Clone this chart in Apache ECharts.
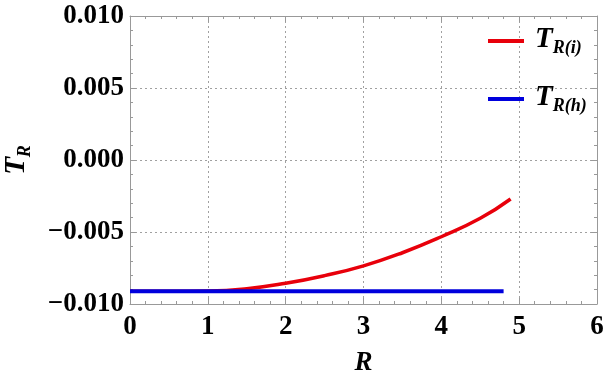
<!DOCTYPE html>
<html><head><meta charset="utf-8">
<script src="https://cdn.jsdelivr.net/npm/echarts@6/dist/echarts.min.js"></script>
<style>html,body{margin:0;padding:0;background:#fff}#c{width:604px;height:382px}</style>
</head><body><div id="c"></div>
<script>
var rInterior = [0, 0.5, 1, 1.5, 2, 2.5, 3, 3.5, 4, 4.5, 4.89];
var tInterior = [-0.00912, -0.00912, -0.00910, -0.00894, -0.00856, -0.00803, -0.00735, -0.00644, -0.00533, -0.00405, -0.00271];
var rHorizon = [0, 4.8];
var tHorizon = [-0.00912, -0.00912];
var xTicks = [0, 1, 2, 3, 4, 5, 6];
var yTicks = [-0.010, -0.005, 0.000, 0.005, 0.010];
var seriesNames = ['T_R(i)', 'T_R(h)'];

function pairs(xs, ys) { return xs.map(function (x, i) { return [x, ys[i]]; }); }
var font = 'Liberation Serif';
var grid = '#a0a0a0';
function yFmt(v) { return (v < -1e-9 ? '\u2212' : '') + Math.abs(v).toFixed(3); }

var chart = echarts.init(document.getElementById('c'));
function axisCommon() {
  return {
    axisLine: { show: true, onZero: false, lineStyle: { color: '#999', width: 1 } },
    axisTick: { show: true, inside: true, length: 6, lineStyle: { color: '#999' } },
    minorTick: { show: true, splitNumber: 5, length: 3, lineStyle: { color: '#999' } }
  };
}
var richTR = {
  t: { fontFamily: font, fontSize: 29, fontWeight: 'bold', fontStyle: 'italic', color: '#000', lineHeight: 32, verticalAlign: 'top' },
  s: { fontFamily: font, fontSize: 18, fontWeight: 'bold', fontStyle: 'italic', color: '#000', lineHeight: 32, verticalAlign: 'bottom', padding: [10, 0, 0, 0] }
};
chart.setOption({
  animation: false,
  grid: { left: 130, right: 7, top: 16, bottom: 78, containLabel: false, outerBoundsMode: 'none' },
  legend: {
    orient: 'vertical', left: 483, top: 20, itemGap: 26,
    itemWidth: 36, itemHeight: 4, icon: 'rect',
    data: seriesNames,
    formatter: function (n) { return '{t|T}{s|' + n.slice(2) + '}'; },
    textStyle: { padding: [0, 0, 0, 6], rich: richTR }
  },
  xAxis: [
    Object.assign(axisCommon(), {
      type: 'value', min: xTicks[0], max: xTicks[xTicks.length - 1], interval: 1,
      name: 'R', nameLocation: 'middle', nameGap: 46,
      nameTextStyle: { fontFamily: font, fontSize: 27, fontWeight: 'bold', fontStyle: 'italic', color: '#000' },
      axisLabel: { fontFamily: font, fontSize: 27, fontWeight: 'bold', color: '#000', margin: 10 },
      splitLine: { show: true, lineStyle: { color: grid, type: [2, 3], width: 1 } }
    }),
    Object.assign(axisCommon(), {
      type: 'value', position: 'top', min: 0, max: 6, interval: 1,
      axisLabel: { show: false }, splitLine: { show: false }
    })
  ],
  yAxis: [
    Object.assign(axisCommon(), {
      type: 'value', min: yTicks[0], max: yTicks[yTicks.length - 1], interval: 0.005,
      name: '{t|T}{s|R}', nameLocation: 'middle', nameGap: 96, nameRotate: 90,
      nameTextStyle: { rich: richTR },
      axisLabel: { fontFamily: font, fontSize: 27, fontWeight: 'bold', color: '#000', margin: 6, formatter: yFmt },
      splitLine: { show: true, lineStyle: { color: grid, type: [2, 3], width: 1 } }
    }),
    Object.assign(axisCommon(), {
      type: 'value', position: 'right', min: -0.01, max: 0.01, interval: 0.005,
      axisLabel: { show: false }, splitLine: { show: false }
    })
  ],
  series: [
    { name: seriesNames[0], type: 'line', data: pairs(rInterior, tInterior), smooth: true, showSymbol: false, symbol: 'none',
      lineStyle: { color: '#e8000b', width: 3.5 }, itemStyle: { color: '#e8000b' }, z: 3 },
    { name: seriesNames[1], type: 'line', data: pairs(rHorizon, tHorizon), showSymbol: false, symbol: 'none',
      lineStyle: { color: '#0000dd', width: 4 }, itemStyle: { color: '#0000dd' }, z: 4 }
  ]
});
</script></body></html>
